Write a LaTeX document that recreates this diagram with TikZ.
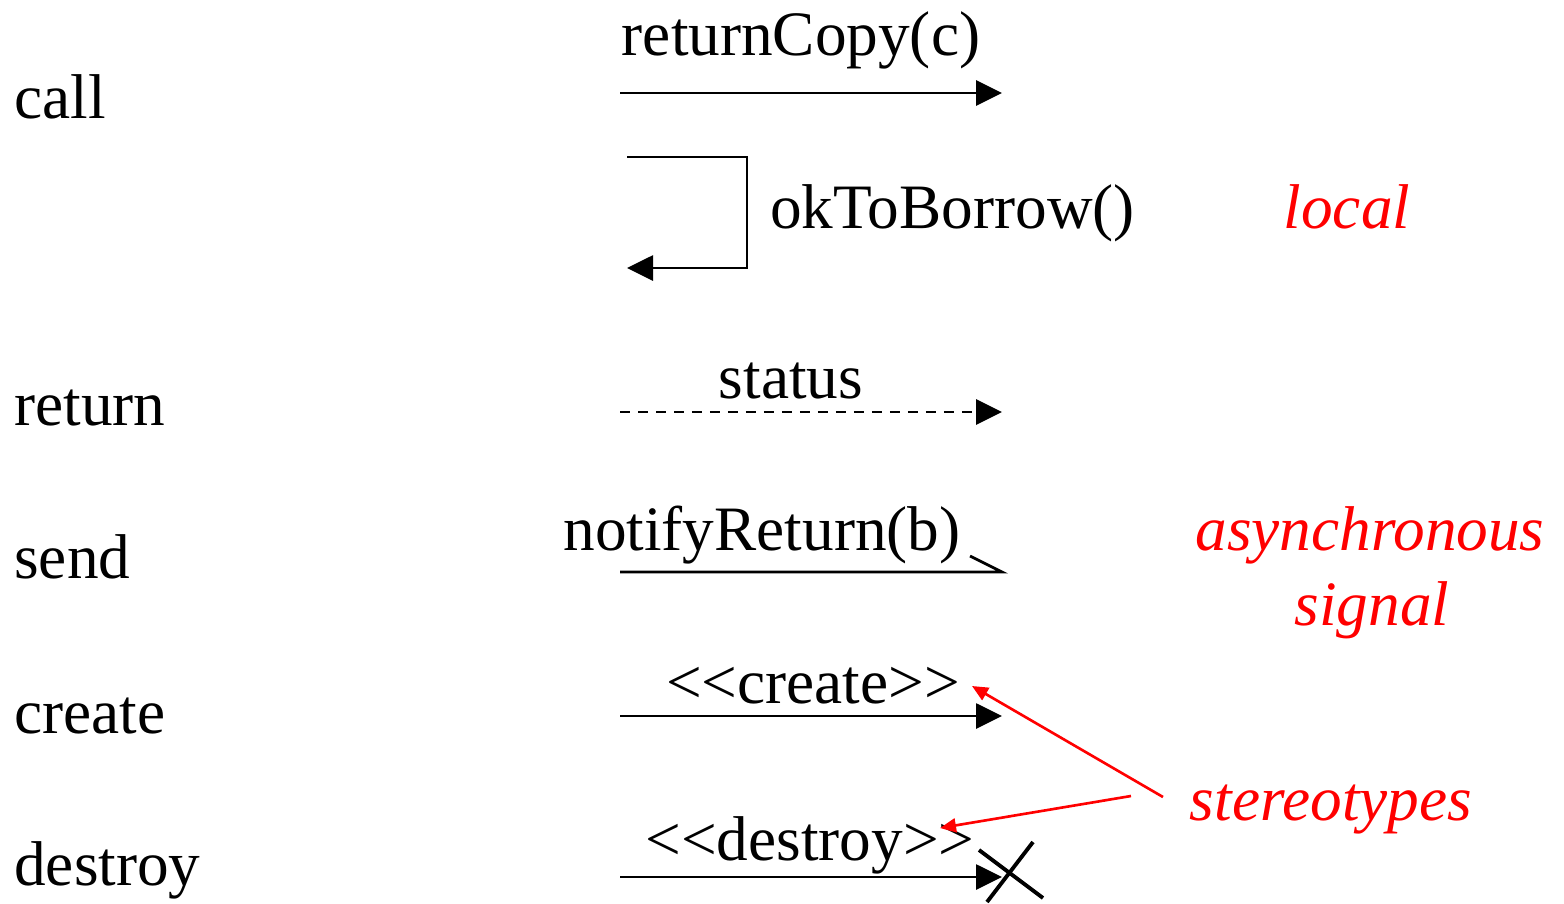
\documentclass[tikz,border=0pt]{standalone}
\usepackage{fontspec}
\setmainfont{Liberation Serif}
\usepackage{xcolor}
\usetikzlibrary{arrows.meta,positioning,calc}
\definecolor{ink}{HTML}{000000}
\definecolor{note}{HTML}{FF0000}
\newcommand{\stereo}[1]{<\kern0pt<#1>\kern0pt>}
\tikzset{
  kind/.style={anchor=base west, inner sep=0pt, font=\fontsize{36}{40}\selectfont, text=ink},
  msglbl/.style={anchor=base, inner sep=0pt, font=\fontsize{36}{40}\selectfont, text=ink},
  remark/.style={anchor=base, inner sep=0pt, font=\fontsize{36}{40}\selectfont\itshape, text=note},
  msg/.style={-{Triangle[length=0.52cm, width=0.5cm]}, draw=ink, line width=1.6pt},
  reply/.style={msg, dash pattern=on 0.2cm off 0.16cm},
  signal/.style={draw=ink, line width=1.6pt},
  pointer/.style={-{Triangle[length=0.32cm, width=0.28cm]}, draw=note, line width=1.5pt},
}
\begin{document}
\begin{tikzpicture}[x=0.02cm, y=-0.02cm]
\useasboundingbox (0,0) rectangle (1564,903);
% kinds of message
\node[kind] (kcall) at (14,118) {call};
\node[kind] (kreturn) at (14,425) {return};
\node[kind] (ksend) at (14,578) {send};
\node[kind] (kcreate) at (14,733) {create};
\node[kind] (kdestroy) at (14,885) {destroy};
% call
\coordinate (callS) at (620,93);
\coordinate (callE) at (1002,93);
\draw[msg] (callS) -- (callE);
\node[msglbl] (lcall) at (801,55) {returnCopy(c)};
% local call
\coordinate (loopS) at (627,157);
\coordinate (loopA) at (747,157);
\coordinate (loopB) at (747,268);
\coordinate (loopE) at (627,268);
\draw[msg] (loopS) -- (loopA) -- (loopB) -- (loopE);
\node[kind] (lloop) at (770,228) {okToBorrow()};
\node[remark] (rlocal) at (1347,228) {local};
% return
\coordinate (retS) at (620,412);
\coordinate (retE) at (1002,412);
\draw[reply] (retS) -- (retE);
\node[msglbl] (lret) at (791,398) {status};
% send
\coordinate (sendS) at (620,572);
\coordinate (sendE) at (1002,572);
\coordinate (sendB) at (970,556);
\draw[signal] (sendS) -- (sendE) -- (sendB);
\node[msglbl] (lsend) at (762,550) {notifyReturn(b)};
\node[remark] (rasync) at (1370,550) {asynchronous};
\node[remark] (rsignal) at (1372,625) {signal};
% create
\coordinate (crS) at (620,716);
\coordinate (crE) at (1002,716);
\draw[msg] (crS) -- (crE);
\node[msglbl] (lcreate) at (813,703) {\stereo{create}};
% destroy
\coordinate (deS) at (620,877);
\coordinate (deE) at (1002,877);
\draw[msg] (deS) -- (deE);
\node[msglbl] (ldestroy) at (810,860) {\stereo{destroy}};
\coordinate (xA) at (979,850);
\coordinate (xB) at (1043,898);
\coordinate (xC) at (1033,842);
\coordinate (xD) at (987,902);
\draw[signal, line width=2.2pt] (xA) -- (xB);
\draw[signal, line width=2.2pt] (xC) -- (xD);
% stereotypes
\node[remark] (rstereo) at (1331,820) {stereotypes};
\coordinate (stA) at (1163,797);
\coordinate (stB) at (1131,796);
\coordinate (tgA) at (972,686);
\coordinate (tgB) at (940,828);
\draw[pointer] (stA) -- (tgA);
\draw[pointer] (stB) -- (tgB);
\end{tikzpicture}
\end{document}
